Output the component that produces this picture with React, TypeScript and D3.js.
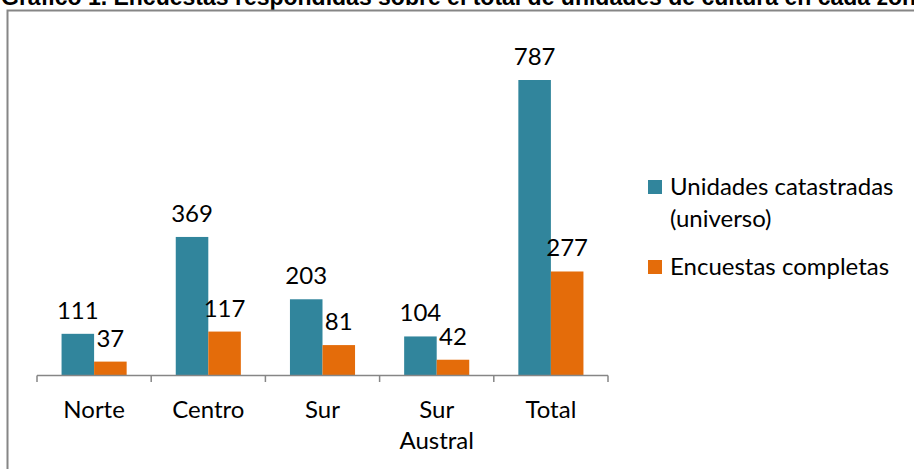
import React from "react";
import * as d3 from "d3";

const categories = ["Norte", "Centro", "Sur", "Sur Austral", "Total"];
const universo = [111, 369, 203, 104, 787];
const completas = [37, 117, 81, 42, 277];
const seriesNames = ["Unidades catastradas (universo)", "Encuestas completas"];
const title = "Gráfico 1. Encuestas respondidas sobre el total de unidades de cultura en cada zona";

const W = 914;
const H = 469;
const FONT = "Lato, sans-serif";
const TEAL = "#31859C";
const ORANGE = "#E46C0A";
const AXIS = "#868686";

export default function App() {
  const x = d3.scaleBand<string>().domain(categories).range([37, 608]);
  const y = d3.scaleLinear().domain([0, 787]).range([375.5, 80]);
  const barW = x.bandwidth() * 0.285;
  const series = [universo, completas];
  const colors = [TEAL, ORANGE];

  return (
    <svg width={W} height={H} style={{ position: "absolute", left: 0, top: 0, background: "#fff" }}>
      <text x={1} y={5} fontFamily="Arial, 'Liberation Sans', sans-serif" fontWeight="bold" fontSize={23}>{title}</text>
      <rect x={7.5} y={10.5} width={W + 10} height={H + 10} fill="none" stroke={AXIS} strokeWidth={2} />

      {series.map((vals, s) =>
        vals.map((v, i) => {
          const cx = (x(categories[i]) ?? 0) + x.bandwidth() / 2;
          const bx = s === 0 ? cx - barW : cx;
          return (
            <g key={`${s}-${i}`}>
              <rect x={bx} y={y(v)} width={barW} height={y(0) - y(v)} fill={colors[s]} />
              <text x={bx + barW / 2} y={y(v) - 15} textAnchor="middle" fontFamily={FONT} fontSize={24}>{v}</text>
            </g>
          );
        })
      )}

      <line x1={37} x2={608} y1={375.5} y2={375.5} stroke={AXIS} strokeWidth={1.5} />
      {[...categories.map((c) => x(c) ?? 0), 608].map((t, i) => (
        <line key={i} x1={t} x2={t} y1={375.5} y2={382} stroke={AXIS} strokeWidth={1.5} />
      ))}
      {categories.map((c) => {
        const cx = (x(c) ?? 0) + x.bandwidth() / 2;
        const lines = c === "Sur Austral" ? ["Sur", "Austral"] : [c];
        return (
          <text key={c} x={cx} y={418} textAnchor="middle" fontFamily={FONT} fontSize={24}>
            {lines.map((l, j) => (
              <tspan key={j} x={cx} dy={j === 0 ? 0 : 31}>{l}</tspan>
            ))}
          </text>
        );
      })}

      <g fontFamily={FONT} fontSize={24}>
        <rect x={648} y={180} width={14} height={14} fill={TEAL} />
        <text x={670} y={195}>Unidades catastradas</text>
        <text x={670} y={227}>(universo)</text>
        <rect x={648} y={260} width={14} height={14} fill={ORANGE} />
        <text x={670} y={275}>{seriesNames[1]}</text>
      </g>
    </svg>
  );
}
